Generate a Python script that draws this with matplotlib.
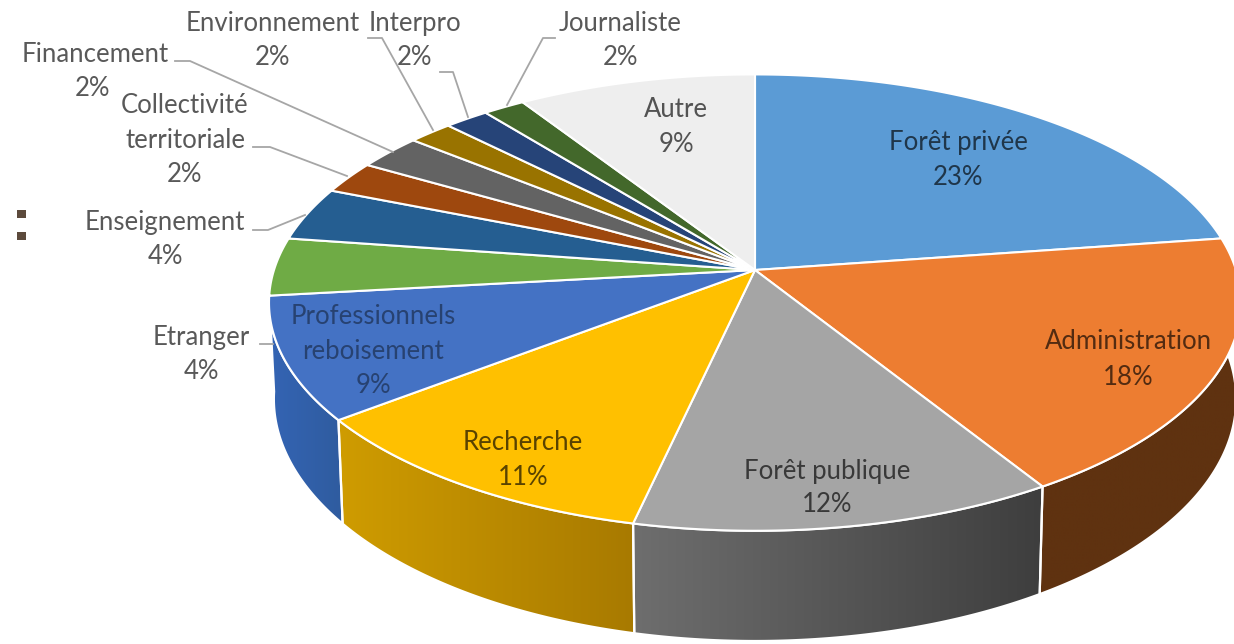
import numpy as np
import matplotlib
matplotlib.use("Agg")
import matplotlib.pyplot as plt
from matplotlib.colors import LinearSegmentedColormap
from matplotlib.patches import Polygon, Rectangle

plt.rcParams['font.family'] = ['Lato', 'DejaVu Sans']

labels = ['Forêt privée', 'Administration', 'Forêt publique', 'Recherche',
          'Professionnels\nreboisement', 'Etranger', 'Enseignement',
          'Collectivité\nterritoriale', 'Financement', 'Environnement',
          'Interpro', 'Journaliste', 'Autre']
pct_labels = ['23%', '18%', '12%', '11%', '9%', '4%', '4%', '2%', '2%', '2%', '2%', '2%', '9%']
values = [22.7, 18.5, 12.3, 11.0, 8.7, 4.1, 3.8, 2.3, 2.5, 1.7, 1.7, 1.6, 9.1]
colors = ['#5b9bd5', '#ed7d31', '#a5a5a5', '#ffc000', '#4472c4', '#6fab45', '#255e91',
          '#9e480e', '#636363', '#997300', '#264478', '#43682b', '#eeeeee']
# side wall colours, left and right end of the gradient
side_left = {1: '#5f3210', 2: '#6e6e6e', 3: '#cf9c00', 4: '#3464b4'}
side_right = {1: '#5f3210', 2: '#3e3e3e', 3: '#a87a00', 4: '#2f5c9f'}

# text line positions, in pixels
label_pos = [[(958, 142), (958, 177)], [(1128, 341), (1128, 377)], [(827, 471), (827, 505)],
             [(523, 442), (523, 477)], [(373, 316), (373, 351), (373, 385)], [(201, 337), (201, 371)],
             [(165, 222), (165, 256)], [(185, 105), (185, 140), (185, 174)], [(95, 54), (93, 88)],
             [(273, 23), (272, 57)], [(415, 23), (415, 57)], [(620, 23), (620, 57)], [(676, 109), (676, 144)]]
text_alpha = [.65, .65, .65, .65, .42, .65, .65, .65, .65, .65, .65, .65, .65]

leaders = [[(260, 344), (273, 344)], [(253, 230), (268, 230), (305, 215)],
           [(253, 147), (270, 147), (347, 176)], [(175, 61), (190, 61), (393, 152)],
           [(368, 38), (382, 38), (433, 130)], [(440, 72), (453, 72), (468, 117)],
           [(555, 38), (543, 38), (507, 105)]]

# perspective disc
cx, cy = 755, 270
a, b, k = 481, 223.5, 1 / 7
depth = 94.5
base_shrink = 0.99


def top_xy(theta):
    X, Y = np.sin(theta), -np.cos(theta)
    w = 1 - k * Y
    return cx + a * X / w, cy + b * Y / w


def base_xy(theta):
    X, Y = np.sin(theta), -np.cos(theta)
    w = 1 - k * Y
    return cx + base_shrink * a * X / w, cy + b * Y / w + depth / w


fig = plt.figure(figsize=(12.34, 6.44), dpi=100)
ax = fig.add_axes([0, 0, 1, 1])

edges = np.cumsum([0] + values) / sum(values) * 2 * np.pi

# side walls first
for i in side_left:
    th = np.linspace(edges[i], edges[i + 1], 200)
    if i == 4:
        th = th[th < np.radians(272)]
    tx, ty = top_xy(th)
    bx, by = base_xy(th)
    pts = np.vstack([np.column_stack([tx, ty]), np.column_stack([bx, by])[::-1]])
    x0, x1 = pts[:, 0].min(), pts[:, 0].max()
    cmap = LinearSegmentedColormap.from_list('side', [side_left[i], side_right[i]])
    im = ax.imshow(np.linspace(0, 1, 256).reshape(1, -1), extent=(x0, x1, pts[:, 1].max(), pts[:, 1].min()),
                   cmap=cmap, aspect='auto', zorder=1, interpolation='bilinear')
    poly = Polygon(pts, closed=True, fc='none', ec='white', lw=1.6, zorder=2)
    ax.add_patch(poly)
    im.set_clip_path(poly)

# top face
for i in range(len(values)):
    th = np.linspace(edges[i], edges[i + 1], 200)
    tx, ty = top_xy(th)
    pts = np.vstack([[cx, cy], np.column_stack([tx, ty])])
    ax.add_patch(Polygon(pts, closed=True, fc=colors[i], ec='white', lw=1.5, zorder=3, joinstyle='round'))

for line in leaders:
    xs, ys = zip(*line)
    ax.plot(xs, ys, color='#a6a6a6', lw=1.3, zorder=4)

for name, pct, pos, al in zip(labels, pct_labels, label_pos, text_alpha):
    for txt, (x, y) in zip(name.split('\n') + [pct], pos):
        ax.text(x, y, txt, ha='center', va='center', fontsize=18.5, color='black', alpha=al, zorder=5)

# two stray marks at the left edge of the source image
for y in (210, 232):
    ax.add_patch(Rectangle((17, y), 9, 8, fc='#5c4a3c', ec='none'))

ax.set_xlim(0, 1234)
ax.set_ylim(644, 0)
ax.axis('off')
fig.savefig('out.png', dpi=100)
